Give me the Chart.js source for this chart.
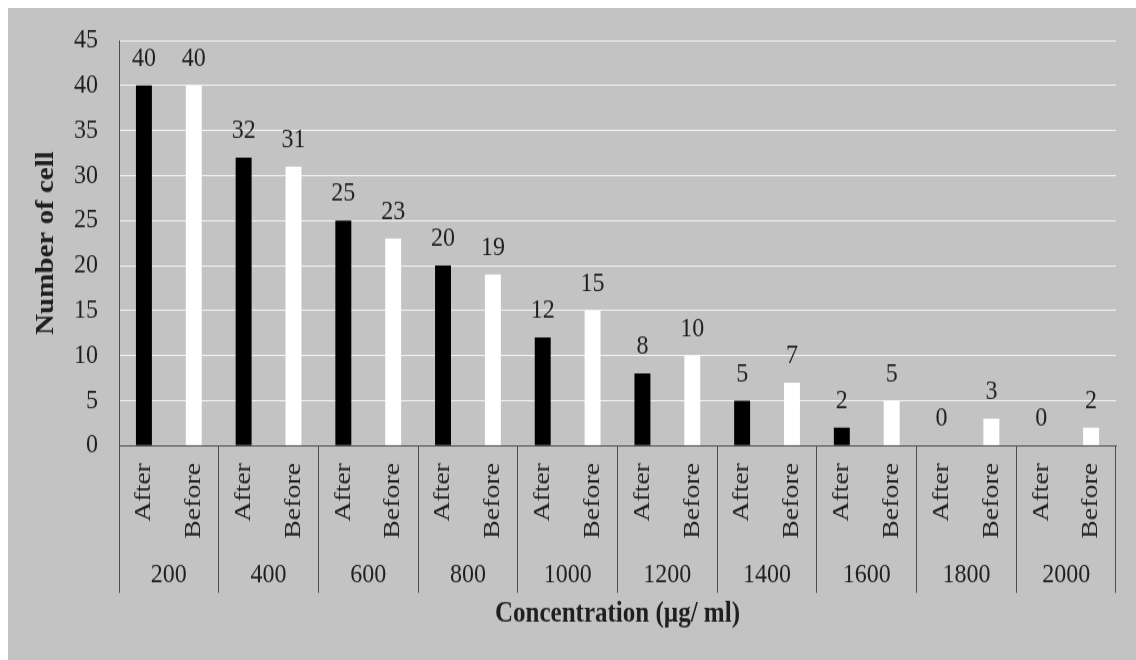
<!DOCTYPE html>
<html>
<head>
<meta charset="utf-8">
<script src="https://cdn.jsdelivr.net/npm/chart.js@4/dist/chart.umd.min.js"></script>
<style>
    body { margin: 0; background: #ffffff; }
    #cellChart {
        position: absolute;
        left: 8px;
        top: 8px;
        background: #c3c3c3;
    }
</style>
</head>
<body>
<!-- the source picture is stretched vertically, so the canvas is drawn shorter and scaled up by its inline style -->
<canvas id="cellChart" width="1128" height="562" style="width:1128px;height:652px"></canvas>
<script>
// Dados do gráfico
const concentrations = ['200', '400', '600', '800', '1000', '1200', '1400', '1600', '1800', '2000'];
const phases = ['After', 'Before'];
const afterCounts = [40, 32, 25, 20, 12, 8, 5, 2, 0, 0];
const beforeCounts = [40, 31, 23, 19, 15, 10, 7, 5, 3, 2];
const yMax = 45;
const yStep = 5;

const serif = '"Liberation Serif", "Times New Roman", serif';
const textColor = '#1e1e1e';
const lineColor = '#4d4d4d';
const clear = 'rgba(0,0,0,0)';

// one slot per bar: After, Before, After, Before...
const barLabels = [];
const afterData = [];
const beforeData = [];
concentrations.forEach(function(c, i) {
    barLabels.push(phases[0], phases[1]);
    afterData.push(afterCounts[i], null);
    beforeData.push(null, beforeCounts[i]);
});

// values above the bars
const valueLabels = {
    id: 'valueLabels',
    afterDatasetsDraw: function(chart) {
        const ctx = chart.ctx;
        ctx.save();
        ctx.font = '24px ' + serif;
        ctx.fillStyle = textColor;
        ctx.textAlign = 'center';
        ctx.textBaseline = 'middle';
        chart.data.datasets.forEach(function(ds, di) {
            chart.getDatasetMeta(di).data.forEach(function(bar, i) {
                const v = ds.data[i];
                if (v === null) return;
                ctx.fillText(String(v), bar.x, bar.y - 23);
            });
        });
        ctx.restore();
    }
};

// separators only between the concentration groups
function groupEdge(c) {
    return (c.index === undefined || c.index % 2 === 0) ? lineColor : clear;
}

const ctx = document.getElementById('cellChart').getContext('2d');
new Chart(ctx, {
    type: 'bar',
    data: {
        labels: barLabels,
        datasets: [{
            label: phases[0],
            data: afterData,
            backgroundColor: '#000000',
            borderWidth: 0,
            grouped: false,
            barPercentage: 0.32,
            categoryPercentage: 1
        }, {
            label: phases[1],
            data: beforeData,
            backgroundColor: '#ffffff',
            borderWidth: 0,
            grouped: false,
            barPercentage: 0.32,
            categoryPercentage: 1
        }]
    },
    options: {
        responsive: false,
        animation: false,
        devicePixelRatio: 1,
        layout: {
            padding: { left: 10, right: 20, top: 28, bottom: 24 }
        },
        plugins: {
            legend: { display: false },
            tooltip: { enabled: false }
        },
        scales: {
            y: {
                min: 0,
                max: yMax,
                afterFit: function(scale) { scale.width = 101; },
                ticks: {
                    stepSize: yStep,
                    padding: 0,
                    color: textColor,
                    font: { family: serif, size: 24 }
                },
                grid: {
                    drawTicks: true,
                    tickLength: 21,
                    tickColor: clear,
                    color: function(c) {
                        return c.tick && c.tick.value === 0 ? clear : '#f2f2f2';
                    },
                    lineWidth: 1
                },
                border: { color: lineColor, width: 1 },
                title: {
                    display: true,
                    text: 'Number of cell',
                    color: textColor,
                    font: { family: serif, size: 25, weight: 'bold' },
                    padding: { top: 14, bottom: 0 }
                }
            },
            x: {
                weight: 0,
                afterFit: function(scale) { scale.height = 92; },
                ticks: {
                    autoSkip: false,
                    minRotation: 90,
                    maxRotation: 90,
                    padding: -112,
                    color: textColor,
                    font: { family: serif, size: 24 }
                },
                grid: {
                    offset: true,
                    drawOnChartArea: false,
                    drawTicks: true,
                    tickLength: 127,
                    tickWidth: 1,
                    color: groupEdge,
                    tickColor: groupEdge
                },
                border: { color: lineColor, width: 1 }
            },
            x2: {
                type: 'category',
                position: 'bottom',
                weight: 1,
                labels: concentrations,
                offset: true,
                ticks: {
                    padding: 5,
                    color: textColor,
                    font: { family: serif, size: 24 }
                },
                grid: { display: false, drawTicks: false },
                border: { display: false },
                title: {
                    display: true,
                    text: 'Concentration (µg/ ml)',
                    color: textColor,
                    font: { family: serif, size: 25, weight: 'bold' },
                    padding: { top: 0, bottom: 0 }
                }
            }
        }
    },
    plugins: [valueLabels]
});
</script>
</body>
</html>
